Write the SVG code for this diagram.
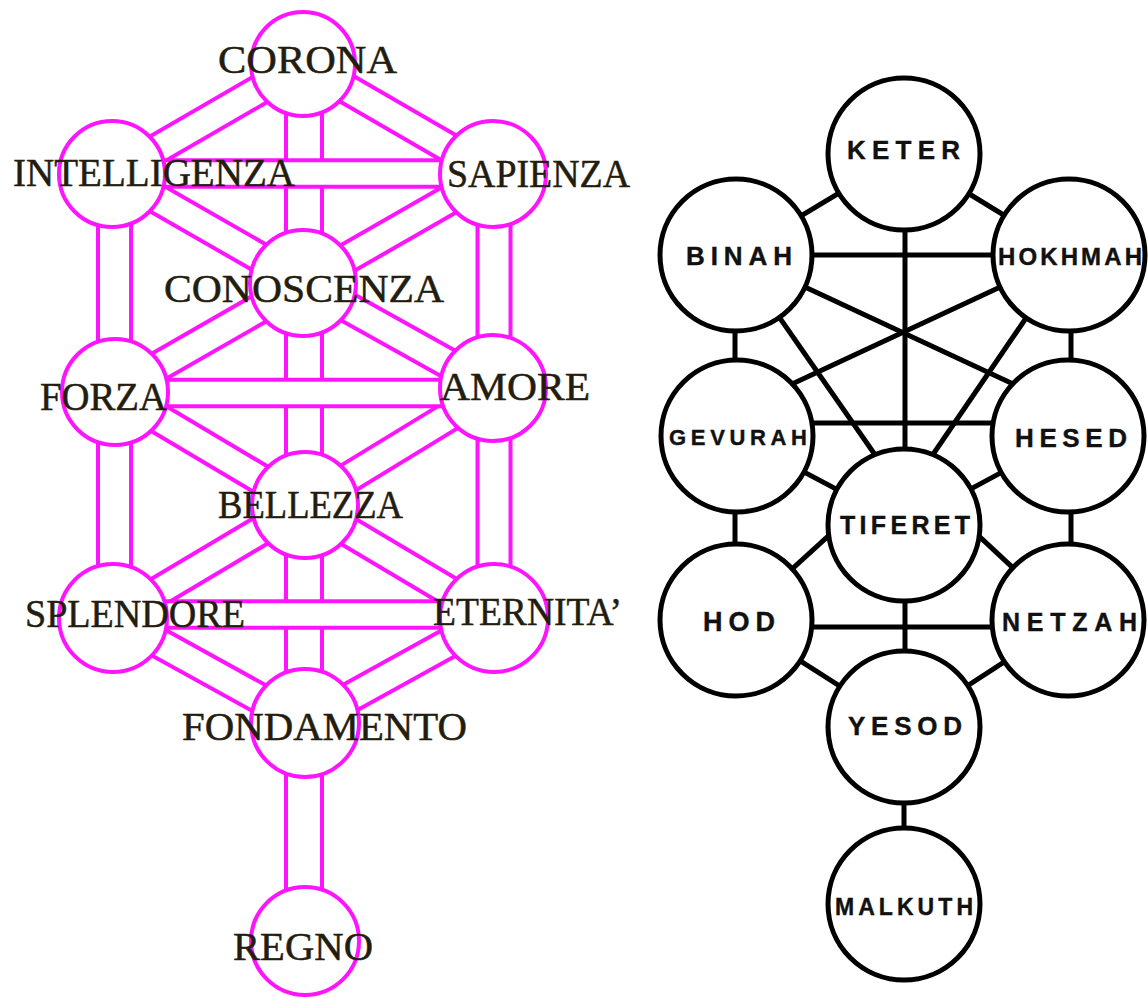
<svg xmlns="http://www.w3.org/2000/svg" width="1148" height="998" viewBox="0 0 1148 998">
<style>
  .o { stroke: #ff14ff; fill: none; }
  .i { stroke: #ffffff; fill: none; }
  .d.o { stroke-width: 33; } .d.i { stroke-width: 25; }
  .v.o { stroke-width: 37; } .v.i { stroke-width: 29; }
  .vc.o { stroke-width: 40; } .vc.i { stroke-width: 32; }
  .h.o { stroke-width: 30.5; } .h.i { stroke-width: 22.5; }
  .ln { fill: #ffffff; stroke: #ff14ff; stroke-width: 4; }
  .lt { font-family: "Liberation Serif", "Times New Roman", serif; font-size: 40px; fill: #231d0f; stroke: #231d0f; stroke-width: 0.5; }
  .rc { stroke: #000; stroke-width: 5; fill: none; }
  .rn { fill: #ffffff; stroke: #000; stroke-width: 5; }
  .rt { font-family: "Liberation Sans", Arial, sans-serif; font-weight: 700; fill: #111; stroke: #111; stroke-width: 0.4; }
</style>
<rect width="1148" height="998" fill="#ffffff"/>

<!-- LEFT TREE connectors -->
<g id="connectors-left">
  <!-- diagonals -->
  <line class="d o" x1="304" y1="64" x2="114" y2="174"/><line class="d i" x1="304" y1="64" x2="114" y2="174"/>
  <line class="d o" x1="304" y1="64" x2="494" y2="174"/><line class="d i" x1="304" y1="64" x2="494" y2="174"/>
  <line class="d o" x1="114" y1="174" x2="304" y2="283"/><line class="d i" x1="114" y1="174" x2="304" y2="283"/>
  <line class="d o" x1="494" y1="174" x2="304" y2="283"/><line class="d i" x1="494" y1="174" x2="304" y2="283"/>
  <line class="d o" x1="304" y1="283" x2="114" y2="392"/><line class="d i" x1="304" y1="283" x2="114" y2="392"/>
  <line class="d o" x1="304" y1="283" x2="494" y2="389"/><line class="d i" x1="304" y1="283" x2="494" y2="389"/>
  <line class="d o" x1="114" y1="392" x2="304" y2="505"/><line class="d i" x1="114" y1="392" x2="304" y2="505"/>
  <line class="d o" x1="494" y1="389" x2="304" y2="505"/><line class="d i" x1="494" y1="389" x2="304" y2="505"/>
  <line class="d o" x1="304" y1="505" x2="114" y2="618"/><line class="d i" x1="304" y1="505" x2="114" y2="618"/>
  <line class="d o" x1="304" y1="505" x2="494" y2="618"/><line class="d i" x1="304" y1="505" x2="494" y2="618"/>
  <line class="d o" x1="114" y1="618" x2="304" y2="723"/><line class="d i" x1="114" y1="618" x2="304" y2="723"/>
  <line class="d o" x1="494" y1="618" x2="304" y2="723"/><line class="d i" x1="494" y1="618" x2="304" y2="723"/>
  <!-- verticals -->
  <line class="vc o" x1="304" y1="64" x2="304" y2="941"/><line class="vc i" x1="304" y1="64" x2="304" y2="941"/>
  <line class="v o" x1="114.5" y1="174" x2="114.5" y2="618"/><line class="v i" x1="114.5" y1="174" x2="114.5" y2="618"/>
  <line class="v o" x1="494" y1="174" x2="494" y2="618"/><line class="v i" x1="494" y1="174" x2="494" y2="618"/>
  <!-- horizontals -->
  <line class="h o" x1="114" y1="173.5" x2="494" y2="173.5"/><line class="h i" x1="114" y1="173.5" x2="494" y2="173.5"/>
  <line class="h o" x1="114" y1="393" x2="494" y2="393"/><line class="h i" x1="114" y1="393" x2="494" y2="393"/>
  <line class="h o" x1="114" y1="614.5" x2="494" y2="614.5"/><line class="h i" x1="114" y1="614.5" x2="494" y2="614.5"/>
</g>

<!-- LEFT TREE nodes -->
<g id="corona"><circle class="ln" cx="303" cy="64" r="52"/><text class="lt" x="218" y="73" textLength="179" lengthAdjust="spacingAndGlyphs">CORONA</text></g>
<g id="intelligenza"><circle class="ln" cx="112" cy="174" r="53"/><text class="lt" x="13" y="186" textLength="282" lengthAdjust="spacingAndGlyphs">INTELLIGENZA</text></g>
<g id="sapienza"><circle class="ln" cx="493" cy="174" r="53"/><text class="lt" x="447" y="187" textLength="183" lengthAdjust="spacingAndGlyphs">SAPIENZA</text></g>
<g id="conoscenza"><circle class="ln" cx="303" cy="283" r="53"/><text class="lt" x="164" y="302" textLength="280" lengthAdjust="spacingAndGlyphs">CONOSCENZA</text></g>
<g id="forza"><circle class="ln" cx="115" cy="392" r="53"/><text class="lt" x="40" y="410" textLength="127" lengthAdjust="spacingAndGlyphs">FORZA</text></g>
<g id="amore"><circle class="ln" cx="493" cy="388" r="53"/><text class="lt" x="440" y="400" textLength="150" lengthAdjust="spacingAndGlyphs">AMORE</text></g>
<g id="bellezza"><circle class="ln" cx="305" cy="505" r="53"/><text class="lt" x="218" y="518" textLength="185" lengthAdjust="spacingAndGlyphs">BELLEZZA</text></g>
<g id="splendore"><circle class="ln" cx="113" cy="618" r="54"/><text class="lt" x="25" y="627" textLength="220" lengthAdjust="spacingAndGlyphs">SPLENDORE</text></g>
<g id="eternita"><circle class="ln" cx="494" cy="618" r="54"/><text class="lt" x="433" y="625" textLength="189" lengthAdjust="spacingAndGlyphs">ETERNITA’</text></g>
<g id="fondamento"><circle class="ln" cx="305" cy="723" r="54"/><text class="lt" x="182" y="740" textLength="285" lengthAdjust="spacingAndGlyphs">FONDAMENTO</text></g>
<g id="regno"><circle class="ln" cx="305" cy="941" r="54"/><text class="lt" x="233" y="960" textLength="140" lengthAdjust="spacingAndGlyphs">REGNO</text></g>

<!-- RIGHT TREE connectors -->
<g id="connectors-right" class="rc">
  <line x1="904" y1="154" x2="736" y2="255"/>
  <line x1="904" y1="154" x2="1069" y2="255"/>
  <line x1="905" y1="154" x2="905" y2="525"/>
  <line x1="736" y1="255" x2="1069" y2="255"/>
  <line x1="735" y1="255" x2="735" y2="436"/>
  <line x1="1071" y1="255" x2="1071" y2="436"/>
  <line x1="736" y1="255" x2="887" y2="472"/>
  <line x1="1069" y1="255" x2="921" y2="472"/>
  <line x1="736" y1="255" x2="1069" y2="410"/>
  <line x1="1069" y1="255" x2="736" y2="410"/>
  <line x1="736" y1="423" x2="1069" y2="423"/>
  <line x1="736" y1="436" x2="904" y2="525"/>
  <line x1="1069" y1="436" x2="904" y2="525"/>
  <line x1="735" y1="436" x2="735" y2="620"/>
  <line x1="1071" y1="436" x2="1071" y2="620"/>
  <line x1="736" y1="620" x2="870" y2="498"/>
  <line x1="1069" y1="620" x2="938" y2="498"/>
  <line x1="905" y1="525" x2="905" y2="727"/>
  <line x1="736" y1="627" x2="1069" y2="627"/>
  <line x1="736" y1="620" x2="904" y2="727"/>
  <line x1="1069" y1="620" x2="904" y2="727"/>
  <line x1="904" y1="727" x2="904" y2="904"/>
</g>

<!-- RIGHT TREE nodes -->
<g id="keter"><circle class="rn" cx="904" cy="154" r="76"/><text class="rt" x="847" y="159" font-size="26" textLength="113" lengthAdjust="spacing">KETER</text></g>
<g id="binah"><circle class="rn" cx="736" cy="255" r="76"/><text class="rt" x="686" y="265" font-size="26" textLength="106" lengthAdjust="spacing">BINAH</text></g>
<g id="hokhmah"><circle class="rn" cx="1069" cy="255" r="76"/><text class="rt" x="998" y="265" font-size="24" textLength="144" lengthAdjust="spacing">HOKHMAH</text></g>
<g id="gevurah"><circle class="rn" cx="737" cy="436" r="76"/><text class="rt" x="669" y="445" font-size="22" textLength="138" lengthAdjust="spacing">GEVURAH</text></g>
<g id="hesed"><circle class="rn" cx="1068" cy="436" r="76"/><text class="rt" x="1015" y="447" font-size="26" textLength="112" lengthAdjust="spacing">HESED</text></g>
<g id="tiferet"><circle class="rn" cx="904" cy="525" r="76"/><text class="rt" x="840" y="534" font-size="25" textLength="130" lengthAdjust="spacing">TIFERET</text></g>
<g id="hod"><circle class="rn" cx="736" cy="620" r="76"/><text class="rt" x="703" y="631" font-size="27" textLength="72" lengthAdjust="spacing">HOD</text></g>
<g id="netzah"><circle class="rn" cx="1068" cy="620" r="76"/><text class="rt" x="1002" y="631" font-size="25" textLength="135" lengthAdjust="spacing">NETZAH</text></g>
<g id="yesod"><circle class="rn" cx="904" cy="727" r="76"/><text class="rt" x="848" y="735" font-size="26" textLength="114" lengthAdjust="spacing">YESOD</text></g>
<g id="malkuth"><circle class="rn" cx="904" cy="904" r="76"/><text class="rt" x="835" y="915" font-size="23" textLength="138" lengthAdjust="spacing">MALKUTH</text></g>
</svg>
